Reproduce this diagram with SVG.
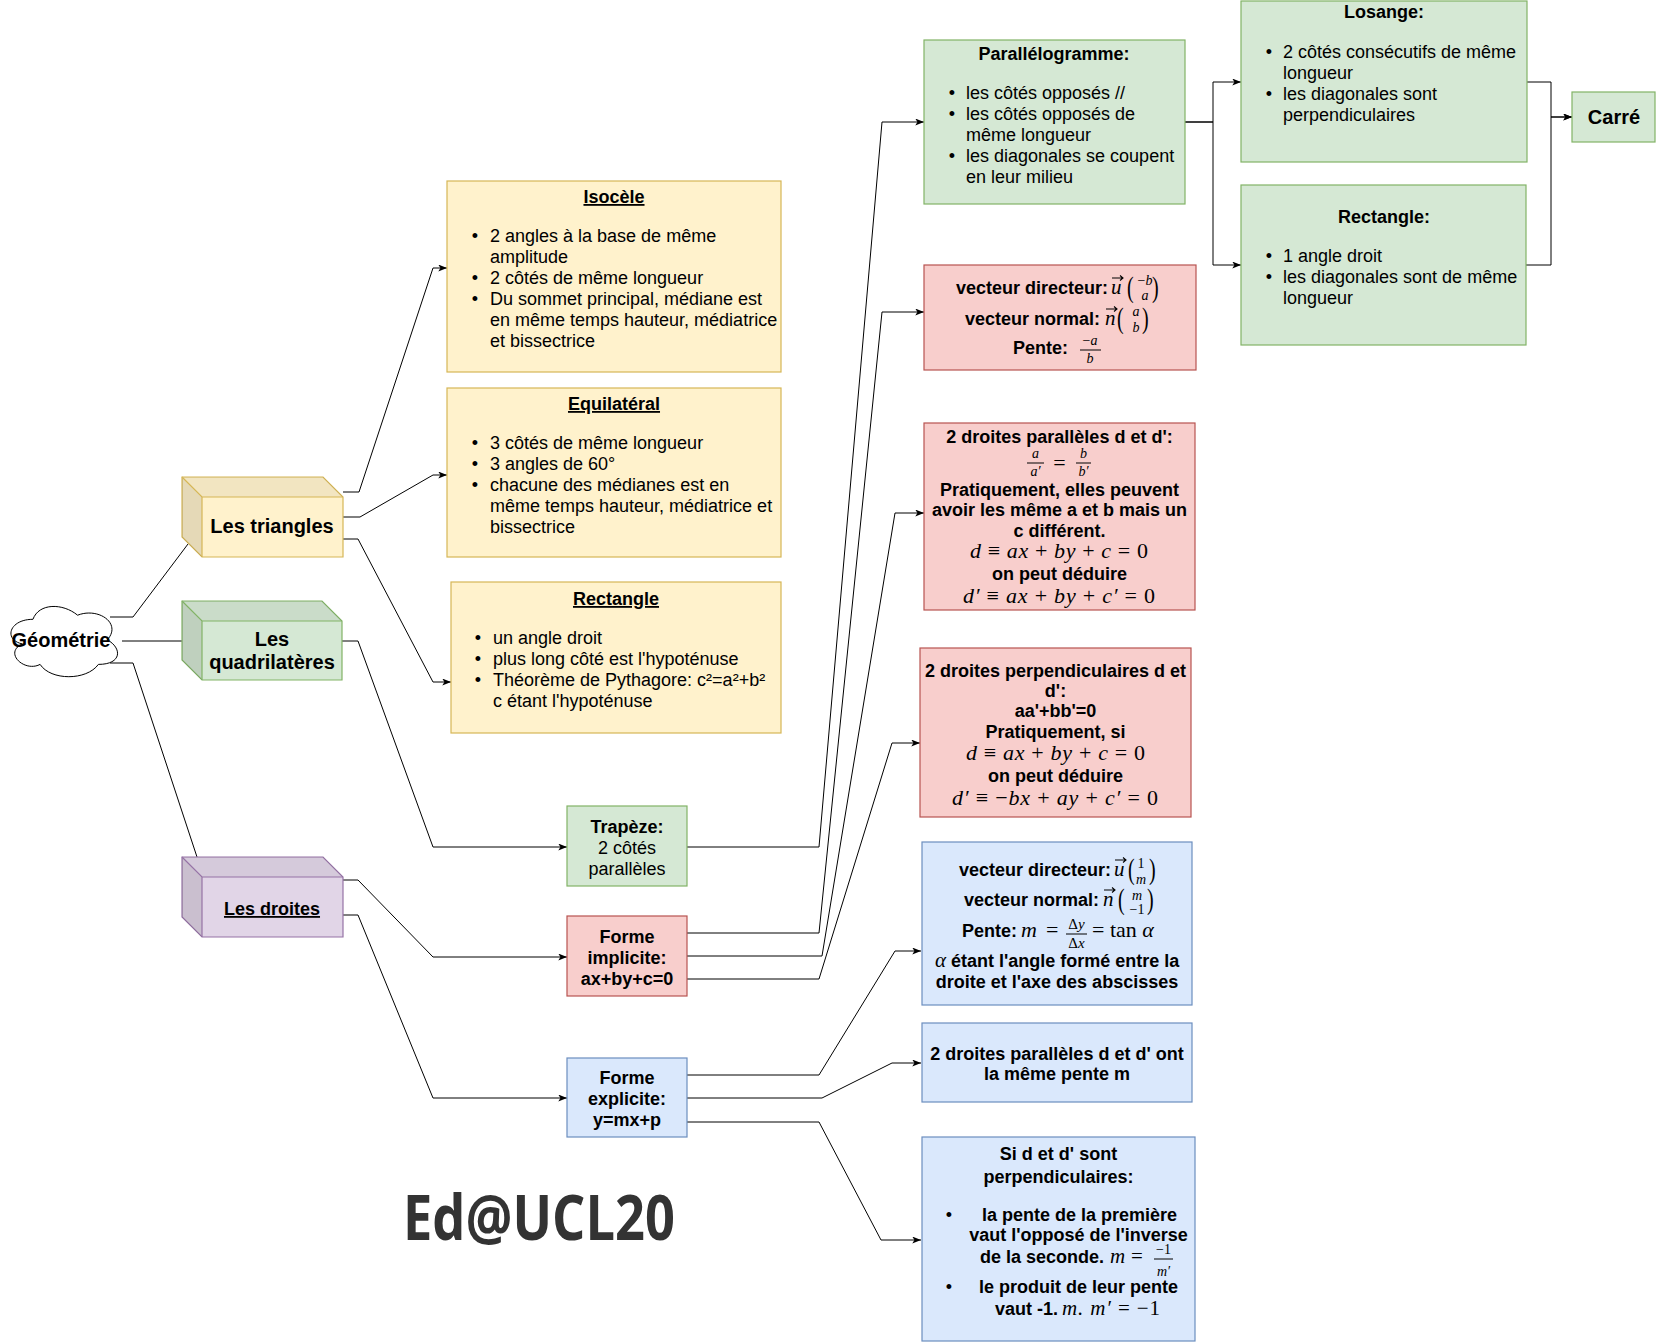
<svg xmlns="http://www.w3.org/2000/svg" width="1657" height="1342" viewBox="0 0 1657 1342">
<defs>
<marker id="ar" viewBox="0 0 10 8" refX="10" refY="4" markerWidth="9" markerHeight="7" markerUnits="userSpaceOnUse" orient="auto">
<path d="M0,0 L10,4 L0,8 L2.5,4 Z" fill="#000"/>
</marker>
<style>
.t{font-family:"Liberation Sans",Arial,Helvetica,sans-serif;font-size:18px;fill:#000}
.f20{font-size:20px}
.b{font-weight:bold}
.c{text-anchor:middle}
.e{text-anchor:end}
.u{text-decoration:underline}
.m{font-family:"Liberation Serif","DejaVu Serif",serif;font-style:italic;font-weight:normal;fill:#000}
.r{font-family:"Liberation Serif","DejaVu Serif",serif;font-style:normal;font-weight:normal;fill:#000}
.edge{fill:none;stroke:#000;stroke-width:1}
.arr{marker-end:url(#ar)}
.y{fill:#fff2cc;stroke:#d6b656;stroke-width:1.2}
.g{fill:#d5e8d4;stroke:#82b366;stroke-width:1.2}
.rd{fill:#f8cecc;stroke:#b85450;stroke-width:1.2}
.bl{fill:#dae8fc;stroke:#6c8ebf;stroke-width:1.2}
.p{fill:#e1d5e7;stroke:#9673a6;stroke-width:1.2}
.d1{fill:#000;fill-opacity:0.05;stroke:none}
.d2{fill:#000;fill-opacity:0.1;stroke:none}
.vec{fill:none;stroke:#000;stroke-width:1.1}
.bar{stroke:#000;stroke-width:1}
</style>
</defs>
<rect width="1657" height="1342" fill="#fff"/>

<g id="connectors">
<path class="edge" d="M110,617 H133 L188,544"/>
<path class="edge" d="M122,641 H182"/>
<path class="edge" d="M110,663 H133 L197,857"/>
<path class="edge arr" d="M343,492 H359 L433,268 H447"/>
<path class="edge arr" d="M343,517 H360 L433,475 H447"/>
<path class="edge arr" d="M343,539 H358 L433,682 H451"/>
<path class="edge arr" d="M341,641 H358 L433,847 H567"/>
<path class="edge arr" d="M343,880 H358 L433,957 H567"/>
<path class="edge arr" d="M343,915 H358 L433,1098 H567"/>
<path class="edge arr" d="M687,847 H819 L882,122 H924"/>
<path class="edge arr" d="M687,933 H819 L882,312 H924"/>
<path class="edge arr" d="M687,956 H822 L895,513 H924"/>
<path class="edge arr" d="M687,979 H819 L892,743 H920"/>
<path class="edge arr" d="M687,1075 H819 L895,951 H921"/>
<path class="edge arr" d="M687,1098 H822 L892,1063 H921"/>
<path class="edge arr" d="M687,1122 H819 L881,1240 H921"/>
<path class="edge arr" d="M1185,122 H1213 V82 H1241"/>
<path class="edge arr" d="M1185,122 H1213 V265 H1241"/>
<path class="edge arr" d="M1527,82 H1551 V117 H1572"/>
<path class="edge arr" d="M1526,265 H1551 V117 H1572"/>
</g>

<g id="geometrie">
<path d="M32.95,619.3 C9.15,619.3 3.2,639.8 22.24,643.9 C3.2,652.9 24.62,672.6 40.09,664.4 C50.8,680.8 86.5,680.8 98.4,664.4 C122.2,664.4 122.2,648 107.3,639.8 C122.2,623.4 98.4,607 77.6,615.2 C62.7,602.9 38.9,602.9 32.95,619.3 Z" fill="#fff" stroke="#000" stroke-width="1"/>
<text class="t b c f20" x="61" y="647">Géométrie</text>
</g>

<g id="triangles">
<path class="y" d="M182,477 H323 L343,497 V557 H202 L182,537 Z"/>
<path class="d1" d="M182,477 H323 L343,497 H202 Z"/>
<path class="d2" d="M182,477 L202,497 V557 L182,537 Z"/>
<path fill="none" stroke="#d6b656" stroke-width="1.2" d="M182,477 L202,497 H343 M202,497 V557"/>
<text class="t b c f20" x="272" y="533">Les triangles</text>
</g>

<g id="quadrilateres">
<path class="g" d="M182,601 H322 L342,621 V680 H202 L182,660 Z"/>
<path class="d1" d="M182,601 H322 L342,621 H202 Z"/>
<path class="d2" d="M182,601 L202,621 V680 L182,660 Z"/>
<path fill="none" stroke="#82b366" stroke-width="1.2" d="M182,601 L202,621 H342 M202,621 V680"/>
<text class="t b c f20" x="272" y="646">Les</text>
<text class="t b c f20" x="272" y="669">quadrilatères</text>
</g>

<g id="droites">
<path class="p" d="M182,857 H323 L343,877 V937 H202 L182,917 Z"/>
<path class="d1" d="M182,857 H323 L343,877 H202 Z"/>
<path class="d2" d="M182,857 L202,877 V937 L182,917 Z"/>
<path fill="none" stroke="#9673a6" stroke-width="1.2" d="M182,857 L202,877 H343 M202,877 V937"/>
<text class="t b c u" x="272" y="915">Les droites</text>
</g>

<g id="isocele">
<rect class="y" x="447" y="181" width="334" height="191"/>
<text class="t b c u" x="614" y="203">Isocèle</text>
<text class="t c" x="475" y="242">•</text>
<text class="t" x="490" y="242">2 angles à la base de même</text>
<text class="t" x="490" y="263">amplitude</text>
<text class="t c" x="475" y="284">•</text>
<text class="t" x="490" y="284">2 côtés de même longueur</text>
<text class="t c" x="475" y="305">•</text>
<text class="t" x="490" y="305">Du sommet principal, médiane est</text>
<text class="t" x="490" y="326">en même temps hauteur, médiatrice</text>
<text class="t" x="490" y="347">et bissectrice</text>
</g>

<g id="equilateral">
<rect class="y" x="447" y="388" width="334" height="169"/>
<text class="t b c u" x="614" y="410">Equilatéral</text>
<text class="t c" x="475" y="449">•</text>
<text class="t" x="490" y="449">3 côtés de même longueur</text>
<text class="t c" x="475" y="470">•</text>
<text class="t" x="490" y="470">3 angles de 60°</text>
<text class="t c" x="475" y="491">•</text>
<text class="t" x="490" y="491">chacune des médianes est en</text>
<text class="t" x="490" y="512">même temps hauteur, médiatrice et</text>
<text class="t" x="490" y="533">bissectrice</text>
</g>

<g id="rectangle-triangle">
<rect class="y" x="451" y="582" width="330" height="151"/>
<text class="t b c u" x="616" y="605">Rectangle</text>
<text class="t c" x="478" y="644">•</text>
<text class="t" x="493" y="644">un angle droit</text>
<text class="t c" x="478" y="665">•</text>
<text class="t" x="493" y="665">plus long côté est l'hypoténuse</text>
<text class="t c" x="478" y="686">•</text>
<text class="t" x="493" y="686">Théorème de Pythagore: c²=a²+b²</text>
<text class="t" x="493" y="707">c étant l'hypoténuse</text>
</g>

<g id="trapeze">
<rect class="g" x="567" y="806" width="120" height="80"/>
<text class="t b c" x="627" y="833">Trapèze:</text>
<text class="t c" x="627" y="854">2 côtés</text>
<text class="t c" x="627" y="875">parallèles</text>
</g>

<g id="forme-implicite">
<rect class="rd" x="567" y="916" width="120" height="80"/>
<text class="t b c" x="627" y="943">Forme</text>
<text class="t b c" x="627" y="964">implicite:</text>
<text class="t b c" x="627" y="985">ax+by+c=0</text>
</g>

<g id="forme-explicite">
<rect class="bl" x="567" y="1058" width="120" height="79"/>
<text class="t b c" x="627" y="1084">Forme</text>
<text class="t b c" x="627" y="1105">explicite:</text>
<text class="t b c" x="627" y="1126">y=mx+p</text>
</g>

<g id="parallelogramme">
<rect class="g" x="924" y="40" width="261" height="164"/>
<text class="t b c" x="1054" y="60">Parallélogramme:</text>
<text class="t c" x="952" y="99">•</text>
<text class="t" x="966" y="99">les côtés opposés //</text>
<text class="t c" x="952" y="120">•</text>
<text class="t" x="966" y="120">les côtés opposés de</text>
<text class="t" x="966" y="141">même longueur</text>
<text class="t c" x="952" y="162">•</text>
<text class="t" x="966" y="162">les diagonales se coupent</text>
<text class="t" x="966" y="183">en leur milieu</text>
</g>

<g id="losange">
<rect class="g" x="1241" y="1" width="286" height="161"/>
<text class="t b c" x="1384" y="18">Losange:</text>
<text class="t c" x="1269" y="58">•</text>
<text class="t" x="1283" y="58">2 côtés consécutifs de même</text>
<text class="t" x="1283" y="79">longueur</text>
<text class="t c" x="1269" y="100">•</text>
<text class="t" x="1283" y="100">les diagonales sont</text>
<text class="t" x="1283" y="121">perpendiculaires</text>
</g>

<g id="rectangle-quad">
<rect class="g" x="1241" y="185" width="285" height="160"/>
<text class="t b c" x="1384" y="223">Rectangle:</text>
<text class="t c" x="1269" y="262">•</text>
<text class="t" x="1283" y="262">1 angle droit</text>
<text class="t c" x="1269" y="283">•</text>
<text class="t" x="1283" y="283">les diagonales sont de même</text>
<text class="t" x="1283" y="304">longueur</text>
</g>

<g id="carre">
<rect class="g" x="1572" y="92" width="83" height="50"/>
<text class="t b c f20" x="1614" y="124">Carré</text>
</g>

<g id="vecteurs-implicite">
<rect class="rd" x="924" y="265" width="272" height="105"/>
<text class="t b e" x="1108" y="294">vecteur directeur:</text>
<text class="m" x="1111" y="294" font-size="21">u</text>
<path class="vec" d="M1112,278 H1123 M1120,275.5 L1123,278 L1120,280.5"/>
<text class="r" transform="translate(1127,297) scale(1,1.45)" font-size="20">(</text>
<text class="m c" x="1145" y="285" font-size="14"><tspan class="r">−</tspan>b</text>
<text class="m c" x="1145" y="300" font-size="14">a</text>
<text class="r" transform="translate(1152,297) scale(1,1.45)" font-size="20">)</text>
<text class="t b e" x="1100" y="325">vecteur normal:</text>
<text class="m" x="1105" y="325" font-size="21">n</text>
<path class="vec" d="M1106,309 H1117 M1114,306.5 L1117,309 L1114,311.5"/>
<text class="r" transform="translate(1117,328) scale(1,1.45)" font-size="20">(</text>
<text class="m c" x="1136" y="316" font-size="14">a</text>
<text class="m c" x="1136" y="332" font-size="14">b</text>
<text class="r" transform="translate(1142,328) scale(1,1.45)" font-size="20">)</text>
<text class="t b e" x="1068" y="354">Pente:</text>
<text class="m c" x="1090" y="345" font-size="14"><tspan class="r">−</tspan>a</text>
<line class="bar" x1="1080" y1="350" x2="1101" y2="350"/>
<text class="m c" x="1090" y="363" font-size="14">b</text>
</g>

<g id="paralleles-implicite">
<rect class="rd" x="924" y="423" width="271" height="187"/>
<text class="t b c" x="1059.5" y="443">2 droites parallèles d et d':</text>
<text class="m c" x="1035.5" y="458" font-size="14">a</text>
<line class="bar" x1="1027" y1="463" x2="1044" y2="463"/>
<text class="m c" x="1035.5" y="476" font-size="14">a′</text>
<text class="r c" x="1059.5" y="470" font-size="22">=</text>
<text class="m c" x="1083.5" y="458" font-size="14">b</text>
<line class="bar" x1="1076" y1="463" x2="1091" y2="463"/>
<text class="m c" x="1083.5" y="476" font-size="14">b′</text>
<text class="t b c" x="1059.5" y="496">Pratiquement, elles peuvent</text>
<text class="t b c" x="1059.5" y="516">avoir les même a et b mais un</text>
<text class="t b c" x="1059.5" y="537">c différent.</text>
<text class="m" x="970" y="558" font-size="22" textLength="178" lengthAdjust="spacing">d <tspan class="r">≡</tspan> ax <tspan class="r">+</tspan> by <tspan class="r">+</tspan> c <tspan class="r">= 0</tspan></text>
<text class="t b c" x="1059.5" y="580">on peut déduire</text>
<text class="m" x="963" y="603" font-size="22" textLength="192" lengthAdjust="spacing">d′ <tspan class="r">≡</tspan> ax <tspan class="r">+</tspan> by <tspan class="r">+</tspan> c′ <tspan class="r">= 0</tspan></text>
</g>

<g id="perpendiculaires-implicite">
<rect class="rd" x="920" y="648" width="271" height="169"/>
<text class="t b c" x="1055.5" y="677">2 droites perpendiculaires d et</text>
<text class="t b c" x="1055.5" y="697">d':</text>
<text class="t b c" x="1055.5" y="717">aa'+bb'=0</text>
<text class="t b c" x="1055.5" y="738">Pratiquement, si</text>
<text class="m" x="966" y="760" font-size="22" textLength="179" lengthAdjust="spacing">d <tspan class="r">≡</tspan> ax <tspan class="r">+</tspan> by <tspan class="r">+</tspan> c <tspan class="r">= 0</tspan></text>
<text class="t b c" x="1055.5" y="782">on peut déduire</text>
<text class="m" x="952" y="805" font-size="22" textLength="206" lengthAdjust="spacing">d′ <tspan class="r">≡ −</tspan>bx <tspan class="r">+</tspan> ay <tspan class="r">+</tspan> c′ <tspan class="r">= 0</tspan></text>
</g>

<g id="vecteurs-explicite">
<rect class="bl" x="922" y="842" width="270" height="163"/>
<text class="t b e" x="1111" y="876">vecteur directeur:</text>
<text class="m" x="1114" y="876" font-size="21">u</text>
<path class="vec" d="M1115,860 H1126 M1123,857.5 L1126,860 L1123,862.5"/>
<text class="r" transform="translate(1128,879) scale(1,1.45)" font-size="20">(</text>
<text class="r c" x="1141" y="868" font-size="14">1</text>
<text class="m c" x="1141" y="884" font-size="14">m</text>
<text class="r" transform="translate(1149,879) scale(1,1.45)" font-size="20">)</text>
<text class="t b e" x="1099" y="906">vecteur normal:</text>
<text class="m" x="1103" y="906" font-size="21">n</text>
<path class="vec" d="M1104,890 H1115 M1112,887.5 L1115,890 L1112,892.5"/>
<text class="r" transform="translate(1118,909) scale(1,1.45)" font-size="20">(</text>
<text class="m c" x="1137" y="900" font-size="14">m</text>
<text class="r c" x="1137" y="914" font-size="14">−1</text>
<text class="r" transform="translate(1147,909) scale(1,1.45)" font-size="20">)</text>
<text class="t b e" x="1017" y="937">Pente:</text>
<text class="m" x="1021" y="937" font-size="22">m</text>
<text class="r" x="1046" y="937" font-size="22">=</text>
<text class="r c" x="1076.5" y="929" font-size="15">Δ<tspan class="m">y</tspan></text>
<line class="bar" x1="1066" y1="934" x2="1087" y2="934"/>
<text class="r c" x="1076.5" y="948" font-size="15">Δ<tspan class="m">x</tspan></text>
<text class="r" x="1092" y="937" font-size="22">= tan <tspan class="m">α</tspan></text>
<text class="t b" x="935" y="967"><tspan class="m" font-size="21">α</tspan> étant l'angle formé entre la</text>
<text class="t b c" x="1057" y="988">droite et l'axe des abscisses</text>
</g>

<g id="paralleles-explicite">
<rect class="bl" x="922" y="1023" width="270" height="79"/>
<text class="t b c" x="1057" y="1060">2 droites parallèles d et d' ont</text>
<text class="t b c" x="1057" y="1080">la même pente m</text>
</g>

<g id="perpendiculaires-explicite">
<rect class="bl" x="922" y="1137" width="273" height="204"/>
<text class="t b c" x="1058.5" y="1160">Si d et d' sont</text>
<text class="t b c" x="1058.5" y="1183">perpendiculaires:</text>
<text class="t c" x="949" y="1221">•</text>
<text class="t b c" x="1079.5" y="1221">la pente de la première</text>
<text class="t b c" x="1078.5" y="1241">vaut l'opposé de l'inverse</text>
<text class="t b" x="980" y="1263">de la seconde.</text>
<text class="m" x="1110" y="1263" font-size="21">m</text>
<text class="r" x="1131" y="1263" font-size="21">=</text>
<text class="r c" x="1163.5" y="1254" font-size="14">−1</text>
<line class="bar" x1="1154" y1="1259" x2="1173" y2="1259"/>
<text class="m c" x="1163.5" y="1276" font-size="14">m′</text>
<text class="t c" x="949" y="1293">•</text>
<text class="t b c" x="1078.5" y="1293">le produit de leur pente</text>
<text class="t b" x="995" y="1315">vaut -1.</text>
<text class="m" x="1062" y="1315" font-size="21" textLength="98" lengthAdjust="spacing">m. m′ <tspan class="r">= −1</tspan></text>
</g>

<g id="signature">
<text x="539" y="1240" text-anchor="middle" font-family="'Open Sans','Noto Sans',sans-serif" font-weight="bold" font-size="62" fill="#333" textLength="272" lengthAdjust="spacingAndGlyphs">Ed@UCL20</text>
</g>
</svg>
